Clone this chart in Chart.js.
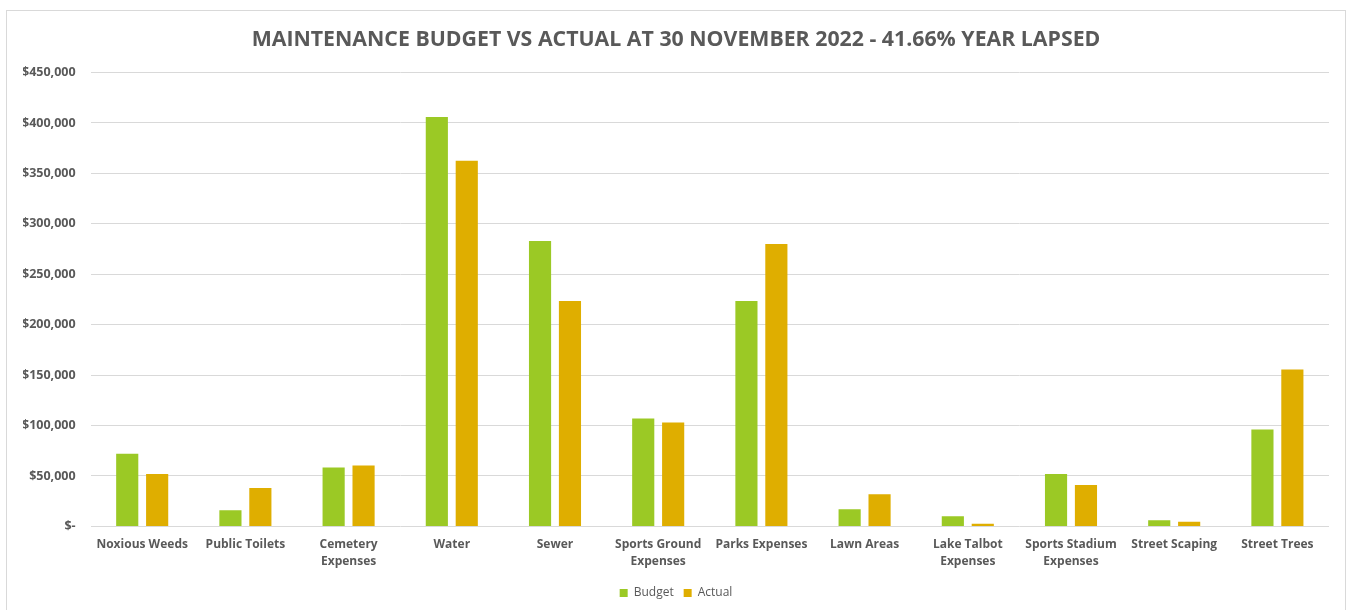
<!DOCTYPE html>
<html>
<head>
<meta charset="utf-8">
<script src="https://cdn.jsdelivr.net/npm/chart.js@4"></script>
<style>
  body { margin: 0; background: #fff; }
  #box {
    position: absolute; left: 6px; top: 10px; width: 1340px; height: 610px;
    border: 1px solid #d9d9d9; border-bottom: none; box-sizing: border-box;
  }
</style>
</head>
<body>
<div id="box"><canvas id="chart"></canvas></div>
<script>
const categories = [
  'Noxious Weeds', 'Public Toilets', ['Cemetery', 'Expenses'], 'Water', 'Sewer',
  ['Sports Ground', 'Expenses'], 'Parks Expenses', 'Lawn Areas', ['Lake Talbot', 'Expenses'],
  ['Sports Stadium', 'Expenses'], 'Street Scaping', 'Street Trees'
]
const budget = [72000, 16000, 58500, 406000, 283000, 107000, 223500, 17000, 10000, 52000, 6000, 96000]
const actual = [52000, 38000, 60500, 362500, 223500, 103000, 280000, 32000, 2700, 41000, 4700, 155500]
const yTicks = [0, 50000, 100000, 150000, 200000, 250000, 300000, 350000, 400000, 450000]

const grey = '#595959'

document.addEventListener('DOMContentLoaded', function () {
  new Chart(document.getElementById('chart'), {
    type: 'bar',
    data: {
      labels: categories,
      datasets: [
        { label: 'Budget', data: budget, backgroundColor: '#9bc925' },
        { label: 'Actual', data: actual, backgroundColor: '#dfae00' },
      ],
    },
    options: {
      responsive: true,
      maintainAspectRatio: false,
      animation: false,
      categoryPercentage: 0.58,
      barPercentage: 0.74,
      // equal side padding keeps the title and legend centred on the box
      layout: { padding: { left: 16, right: 16, top: 14, bottom: 11 } },
      plugins: {
        title: {
          display: true,
          text: 'MAINTENANCE BUDGET VS ACTUAL AT 30 NOVEMBER 2022 - 41.66% YEAR LAPSED',
          color: grey,
          font: { family: 'Open Sans', size: 21.3, weight: 'bold' },
          padding: { top: 2, bottom: 20 },
        },
        legend: {
          position: 'bottom',
          labels: {
            color: grey,
            font: { family: 'Open Sans', size: 12 },
            boxWidth: 8,
            boxHeight: 8,
            padding: 10,
          },
        },
        tooltip: { enabled: false },
      },
      scales: {
        x: {
          grid: { display: false },
          border: { display: false },
          afterFit: function (axis) { axis.height += 5 },
          ticks: {
            color: grey,
            font: { family: 'Open Sans', size: 12, weight: 'bold', lineHeight: 1.4 },
            maxRotation: 0,
            autoSkip: false,
            padding: 2,
          },
        },
        y: {
          min: 0,
          max: 450000,
          afterBuildTicks: function (axis) {
            axis.ticks = yTicks.map(function (v) { return { value: v } })
          },
          afterFit: function (axis) { axis.width -= 16 },
          grid: { color: '#d9d9d9', lineWidth: 1, drawTicks: false },
          border: { display: false },
          ticks: {
            color: grey,
            padding: 15,
            font: { family: 'Open Sans', size: 12.5, weight: 'bold' },
            callback: function (v) { return v === 0 ? '$-' : '$' + v.toLocaleString('en-US') },
          },
        },
      },
    },
  })
})
</script>
</body>
</html>
